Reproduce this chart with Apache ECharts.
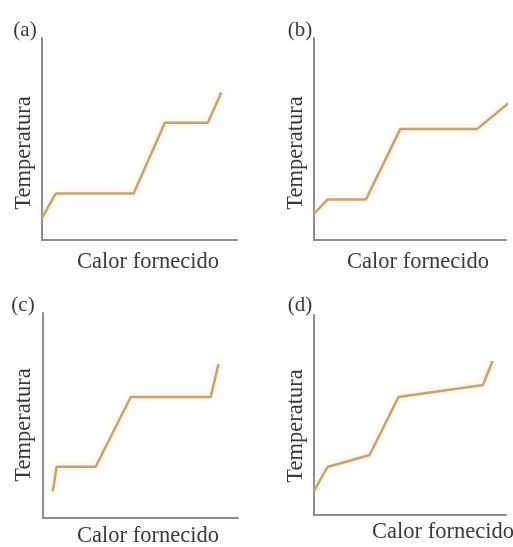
<!DOCTYPE html>
<html>
<head>
<meta charset="utf-8">
<script src="https://cdn.jsdelivr.net/npm/echarts@6/dist/echarts.min.js"></script>
<style>
html,body{margin:0;padding:0;background:#fff;}
#chart{width:513px;height:547px;}
</style>
</head>
<body>
<div id="chart"></div>
<script>
// Panel labels and axis titles
const panelLabels = ['(a)', '(b)', '(c)', '(d)'];
const xTitle = 'Calor fornecido';
const yTitle = 'Temperatura';

// Heating curves (heat supplied vs temperature), arbitrary units 0-100
const heatA = [0, 7, 47, 63, 85, 92];
const tempA = [11, 23, 23, 58, 58, 73];
const heatB = [0, 7, 27, 45, 85, 103];
const tempB = [13, 20, 20, 55, 55, 69];
const heatC = [5, 7, 27, 45, 86, 90];
const tempC = [13, 25, 25, 59, 59, 75];
const heatD = [0, 7, 29, 44, 88, 93];
const tempD = [12, 24, 30, 59, 65, 77];

const heats = [heatA, heatB, heatC, heatD];
const temps = [tempA, tempB, tempC, tempD];

// layout (pixels)
const grids = [
  {left: 42, top: 38, width: 195, height: 202},
  {left: 314, top: 38, width: 192, height: 202},
  {left: 43, top: 313, width: 195, height: 205},
  {left: 314, top: 315, width: 192, height: 200}
];
const labelPos = [[25, 30], [300, 30], [23, 305], [300, 305]];
const xTitlePos = [[148, 262], [418, 262], [148, 536], [443, 532]];
const yTitlePos = [[24, 153], [296, 153], [24, 425], [296, 426]];

const font = '"Liberation Serif", "Times New Roman", serif';
const textColor = '#3a3a3a';
const axisColor = '#8d8d8d';
const lineColor = '#c9a272';

const option = {
  backgroundColor: '#ffffff',
  animation: false,
  grid: grids.map(g => Object.assign({containLabel: false}, g)),
  xAxis: grids.map((g, i) => ({
    type: 'value', gridIndex: i, min: 0, max: 100,
    axisLine: {show: true, onZero: false, lineStyle: {color: axisColor, width: 2}},
    axisTick: {show: false}, axisLabel: {show: false}, splitLine: {show: false}
  })),
  yAxis: grids.map((g, i) => ({
    type: 'value', gridIndex: i, min: 0, max: 100,
    axisLine: {show: true, onZero: false, lineStyle: {color: axisColor, width: 2}},
    axisTick: {show: false}, axisLabel: {show: false}, splitLine: {show: false}
  })),
  series: heats.map((h, i) => ({
    type: 'line', xAxisIndex: i, yAxisIndex: i,
    data: h.map((x, k) => [x, temps[i][k]]),
    showSymbol: false, clip: false,
    lineStyle: {color: lineColor, width: 2.5, shadowColor: 'rgba(245,205,140,0.6)', shadowBlur: 6}
  })),
  graphic: [].concat(
    panelLabels.map((t, i) => ({
      type: 'text', x: labelPos[i][0], y: labelPos[i][1],
      style: {text: t, font: '21px ' + font, fill: textColor, align: 'center', verticalAlign: 'middle'}
    })),
    xTitlePos.map(p => ({
      type: 'text', x: p[0], y: p[1],
      style: {text: xTitle, font: '22.5px ' + font, fill: textColor, align: 'center', verticalAlign: 'middle'}
    })),
    yTitlePos.map(p => ({
      type: 'text', x: p[0], y: p[1], rotation: Math.PI / 2,
      style: {text: yTitle, font: '22.5px ' + font, fill: textColor, align: 'center', verticalAlign: 'middle'}
    }))
  )
};

const chart = echarts.init(document.getElementById('chart'), null, {renderer: 'canvas'});
chart.setOption(option);
</script>
</body>
</html>
